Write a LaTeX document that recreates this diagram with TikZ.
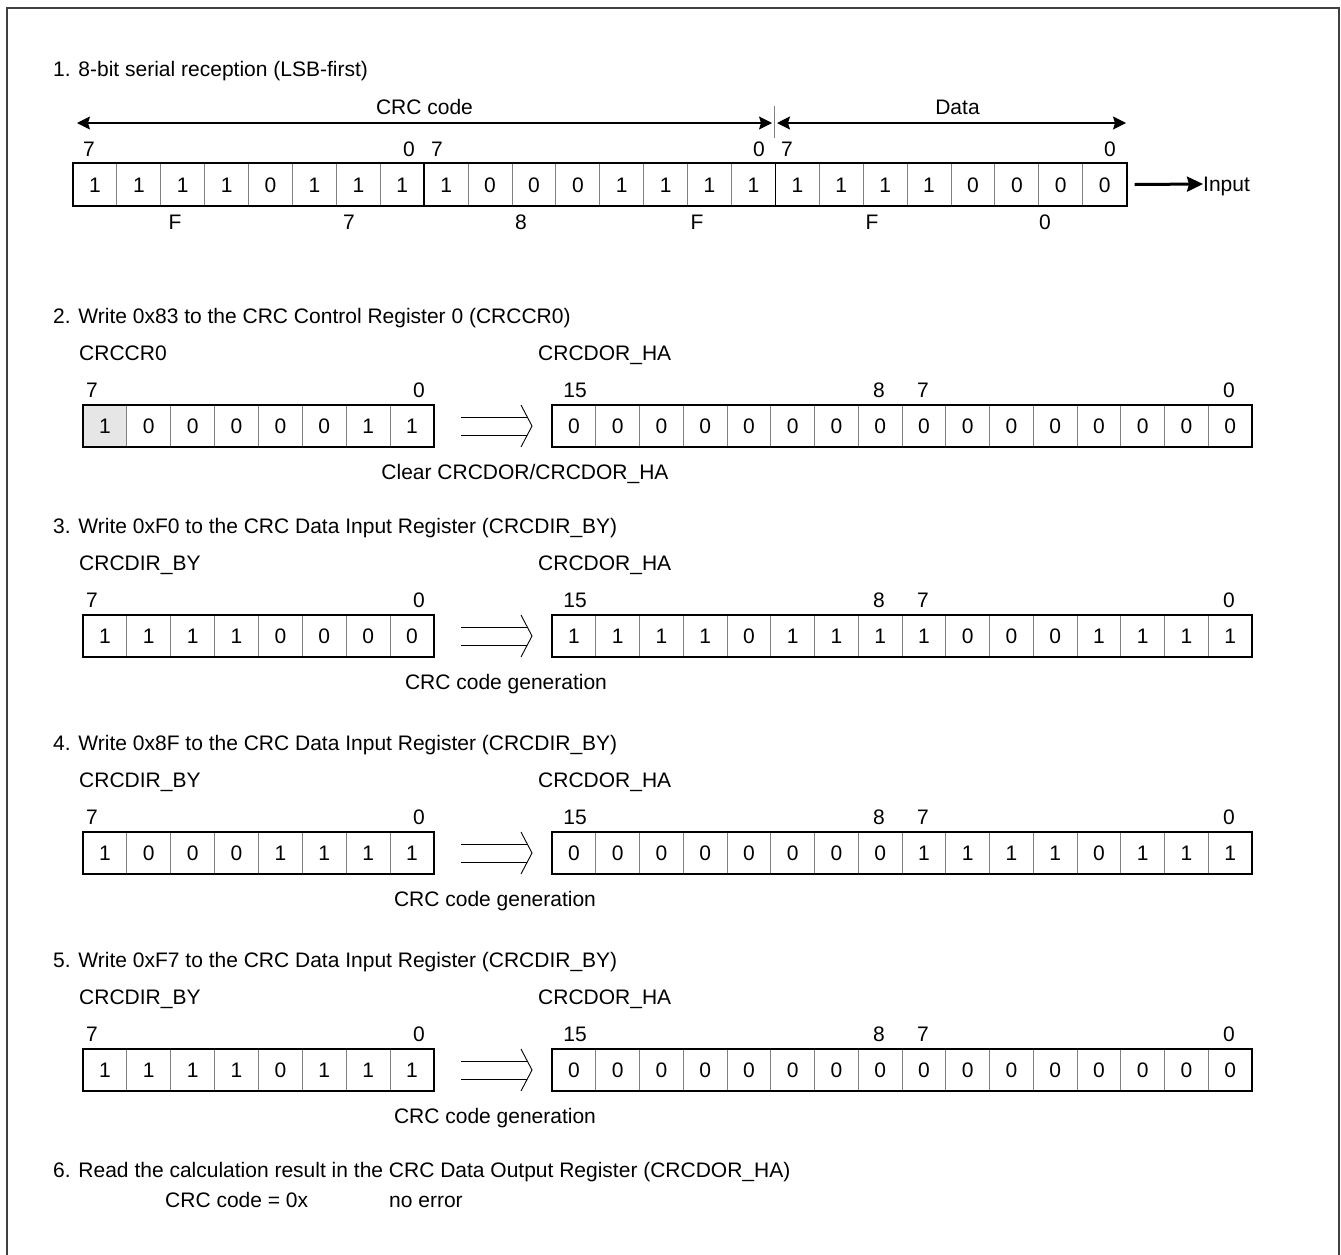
\documentclass[tikz,border=0pt]{standalone}
\usepackage{fontspec}
\setmainfont{Liberation Sans}
\usetikzlibrary{arrows.meta}

\definecolor{framegray}{HTML}{404040}
\definecolor{cellgray}{HTML}{E6E6E6}

\begin{document}
\begin{tikzpicture}[x=1pt, y=-1pt,
  font=\fontsize{21}{25}\selectfont,
  txt/.style={inner sep=0pt, text height=15pt, text depth=0pt},
  cell/.style={draw=gray, line width=0.9pt, minimum width=43.875pt, minimum height=42pt,
    inner sep=0pt, outer sep=0pt, anchor=north west, text height=15pt, text depth=0pt},
  wcell/.style={cell, minimum width=43.75pt},
  regframe/.style={draw=black, line width=1.8pt},
  dimarr/.style={{Stealth[length=13pt,width=13pt,inset=2pt]}-{Stealth[length=13pt,width=13pt,inset=2pt]}, line width=1.2pt},
  inarr/.style={-{Stealth[length=16pt,width=15pt,inset=2pt]}, line width=3pt},
  dblarrow/.pic={
    \draw[line width=0.9pt] (0,-9) -- (66,-9) (0,9) -- (66,9);
    \draw[line width=0.9pt] (60,-21) -- (71,0) -- (60,21);
  }
]
\useasboundingbox (0,0) rectangle (1341,1254);
\draw[line width=2pt, framegray] (6.5,1260) -- (6.5,7.5) -- (1339,7.5) -- (1339,1260);

% 1. serial reception
\node[txt, anchor=west] (t1) at (53,69) {1. 8-bit serial reception (LSB-first)};
\foreach \v [count=\i] in {1,1,1,1,0,1,1,1,1,0,0,0,1,1,1,1,1,1,1,1,0,0,0,0}
  \node[cell, minimum width=43.9pt, minimum height=43pt] (r-\i) at ({73+(\i-1)*43.9},163) {\v};
\draw[regframe] (r-1.north west) rectangle (r-24.south east);
\draw[regframe] (r-8.north east) -- (r-8.south east);
\draw[regframe] (r-16.north east) -- (r-16.south east);

\coordinate (crcL) at (77,123);
\coordinate (crcR) at (772,123);
\coordinate (datL) at (777,123);
\coordinate (datR) at (1126,123);
\draw[dimarr] (crcL) -- node[txt, above=7.5pt] {CRC code} (crcR);
\draw[dimarr] (datL) -- node[txt, above=7.5pt, xshift=6pt] {Data} (datR);
\draw[gray, line width=0.9pt] (774,106) -- (774,138);

\foreach \x/\b in {89/7, 409/0, 437/7, 759/0, 787/7, 1110/0}
  \node[txt] at (\x,149) {\b};
\foreach \x/\h in {175/F, 349/7, 521/8, 697/F, 872/F, 1045/0}
  \node[txt] at (\x,222) {\h};

\node[txt, anchor=west] (inp) at (1203,184) {Input};
\draw[inarr] ([xshift=8pt]r-24.east) -- (inp.west);

% 2.--5. register writes
\fill[cellgray] (83,405) rectangle ++(43.875,42);
\foreach \T/\ttl/\nm/\lo/\hi/\cap/\cx in {
  405/{2. Write 0x83 to the CRC Control Register 0 (CRCCR0)}/CRCCR0/{1,0,0,0,0,0,1,1}/{0,0,0,0,0,0,0,0,0,0,0,0,0,0,0,0}/{Clear CRCDOR/CRCDOR\_HA}/525,
  615/{3. Write 0xF0 to the CRC Data Input Register (CRCDIR\_BY)}/CRCDIR\_BY/{1,1,1,1,0,0,0,0}/{1,1,1,1,0,1,1,1,1,0,0,0,1,1,1,1}/{CRC code generation}/506,
  832/{4. Write 0x8F to the CRC Data Input Register (CRCDIR\_BY)}/CRCDIR\_BY/{1,0,0,0,1,1,1,1}/{0,0,0,0,0,0,0,0,1,1,1,1,0,1,1,1}/{CRC code generation}/495,
  1049/{5. Write 0xF7 to the CRC Data Input Register (CRCDIR\_BY)}/CRCDIR\_BY/{1,1,1,1,0,1,1,1}/{0,0,0,0,0,0,0,0,0,0,0,0,0,0,0,0}/{CRC code generation}/495
}{
  \node[txt, anchor=west] (t\T) at (53,\T-89) {\ttl};
  \node[txt, anchor=west] (n\T) at (79,\T-52) {\nm};
  \node[txt, anchor=west] (o\T) at (538,\T-52) {CRCDOR\_HA};
  \foreach \v [count=\i] in \lo
    \node[cell] (b\T-\i) at ({83+(\i-1)*43.875},\T) {\v};
  \foreach \v [count=\i] in \hi
    \node[wcell] (w\T-\i) at ({552+(\i-1)*43.75},\T) {\v};
  \draw[regframe] (b\T-1.north west) rectangle (b\T-8.south east);
  \draw[regframe] (w\T-1.north west) rectangle (w\T-16.south east);
  \foreach \x/\b in {92/7, 419/0, 575/15, 879/8, 923/7, 1229/0}
    \node[txt] at (\x,\T-15) {\b};
  \pic at ([xshift=27pt]b\T-8.east) {dblarrow};
  \node[txt] (c\T) at (\cx,\T+67) {\cap};
}

% 6. result
\node[txt, anchor=west] (t6) at (53,1170) {6. Read the calculation result in the CRC Data Output Register (CRCDOR\_HA)};
\node[txt, anchor=west] (res) at (165,1200) {CRC code = 0x};
\node[txt, anchor=west] (err) at (389,1200) {no error};
\end{tikzpicture}
\end{document}
